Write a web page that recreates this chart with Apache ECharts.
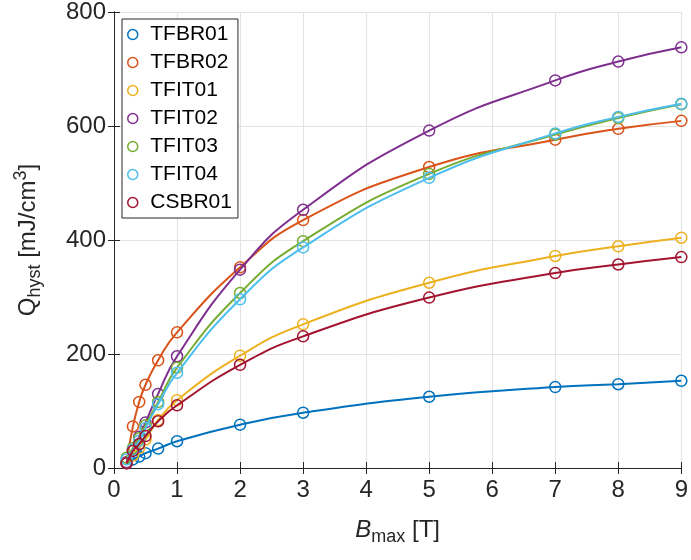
<!DOCTYPE html>
<html>
<head>
<meta charset="utf-8">
<script src="https://cdn.jsdelivr.net/npm/echarts@6/dist/echarts.min.js"></script>
<style>
  html, body { margin: 0; padding: 0; background: #fff; }
  #main { width: 691px; height: 560px; }
</style>
</head>
<body>
<div id="main"></div>
<script>
// B_max values (T), shared by every sample
const bMax = [0.2, 0.3, 0.4, 0.5, 0.7, 1, 2, 3, 5, 7, 8, 9];

// Q_hyst (mJ/cm^3)
const TFBR01 = [9, 15, 20, 26, 34, 47, 76, 97, 125, 142, 147, 153];
const TFBR02 = [10, 73, 116, 146, 189, 238, 352, 435, 528, 576, 595, 609];
const TFIT01 = [10, 22, 35, 50, 84, 119, 197, 252, 325, 372, 389, 404];
const TFIT02 = [10, 32, 55, 80, 130, 196, 348, 453, 592, 680, 713, 738];
const TFIT03 = [18, 35, 52, 75, 116, 176, 307, 398, 516, 585, 614, 638];
const TFIT04 = [15, 32, 48, 70, 112, 167, 296, 387, 509, 587, 616, 639];
const CSBR01 = [8, 30, 42, 56, 82, 110, 181, 231, 299, 342, 357, 370];

const names = ['TFBR01', 'TFBR02', 'TFIT01', 'TFIT02', 'TFIT03', 'TFIT04', 'CSBR01'];
const values = [TFBR01, TFBR02, TFIT01, TFIT02, TFIT03, TFIT04, CSBR01];
const colors = ['#0072BD', '#D95319', '#EDB120', '#7E2F8E', '#77AC30', '#4DBEEE', '#A2142F'];

const font = 'Liberation Sans, Arial, Helvetica, sans-serif';
const axisColor = '#262626';

let chart = echarts.init(document.getElementById('main'));

let series = names.map((name, i) => ({
  name: name,
  type: 'line',
  data: bMax.map((b, k) => [b, values[i][k]]),
  smooth: 0.5,
  symbol: 'circle',
  symbolSize: 11,
  lineStyle: { width: 2, color: colors[i] },
  itemStyle: { color: 'rgba(255,255,255,0)', borderColor: colors[i], borderWidth: 1.5 },
  emphasis: { disabled: true },
  z: 2 + i
}));

let boxAxis = {
  axisLine: { show: true, lineStyle: { color: axisColor, width: 1 } },
  axisTick: { show: true, inside: true, length: 6, lineStyle: { color: axisColor } },
  axisLabel: { show: false },
  splitLine: { show: false }
};

let option = {
  animation: false,
  backgroundColor: '#fff',
  textStyle: { fontFamily: font },
  grid: { left: 114, right: 6, top: 12, bottom: 92 },
  legend: {
    orient: 'vertical',
    left: 122,
    top: 19,
    padding: [5, 6, 5, 5],
    itemGap: 7,
    itemWidth: 21,
    itemHeight: 10,
    icon: 'circle',
    itemStyle: { color: 'rgba(255,255,255,0)', borderWidth: 1.5 },
    backgroundColor: '#fff',
    borderColor: axisColor,
    borderWidth: 1,
    borderRadius: 0,
    textStyle: { fontSize: 21, lineHeight: 20, color: '#000', fontFamily: font, padding: [0, 0, 0, 2] },
    data: names
  },
  xAxis: [
    {
      type: 'value',
      min: 0,
      max: 9,
      interval: 1,
      position: 'bottom',
      name: '{i|B}{sub|max} [T]',
      nameLocation: 'middle',
      nameGap: 46,
      nameTextStyle: {
        color: axisColor,
        fontSize: 24,
        fontFamily: font,
        rich: {
          i: { fontSize: 24, fontStyle: 'italic', color: axisColor, fontFamily: font },
          sub: { fontSize: 18, color: axisColor, fontFamily: font, padding: [14, 0, 0, 0] }
        }
      },
      axisLine: { show: true, lineStyle: { color: axisColor, width: 1 } },
      axisTick: { show: true, inside: true, length: 6, lineStyle: { color: axisColor } },
      axisLabel: { fontSize: 24, color: axisColor, margin: 10, fontFamily: font },
      splitLine: { show: true, lineStyle: { color: '#e3e3e3', width: 1 } }
    },
    Object.assign({ type: 'value', min: 0, max: 9, interval: 1, position: 'top' }, boxAxis)
  ],
  yAxis: [
    {
      type: 'value',
      min: 0,
      max: 800,
      interval: 200,
      position: 'left',
      name: 'Q{sub|hyst} [mJ/cm{sup|3}]',
      nameLocation: 'middle',
      nameGap: 70,
      nameRotate: 90,
      nameTextStyle: {
        color: axisColor,
        fontSize: 24,
        fontFamily: font,
        rich: {
          sub: { fontSize: 18, color: axisColor, fontFamily: font, padding: [14, 0, 0, 0] },
          sup: { fontSize: 18, color: axisColor, fontFamily: font, padding: [0, 0, 14, 0] }
        }
      },
      axisLine: { show: true, lineStyle: { color: axisColor, width: 1 } },
      axisTick: { show: true, inside: true, length: 6, lineStyle: { color: axisColor } },
      axisLabel: { fontSize: 24, color: axisColor, margin: 8, fontFamily: font },
      splitLine: { show: true, lineStyle: { color: '#e3e3e3', width: 1 } }
    },
    Object.assign({ type: 'value', min: 0, max: 800, interval: 200, position: 'right' }, boxAxis)
  ],
  series: series
};

chart.setOption(option);
</script>
</body>
</html>
